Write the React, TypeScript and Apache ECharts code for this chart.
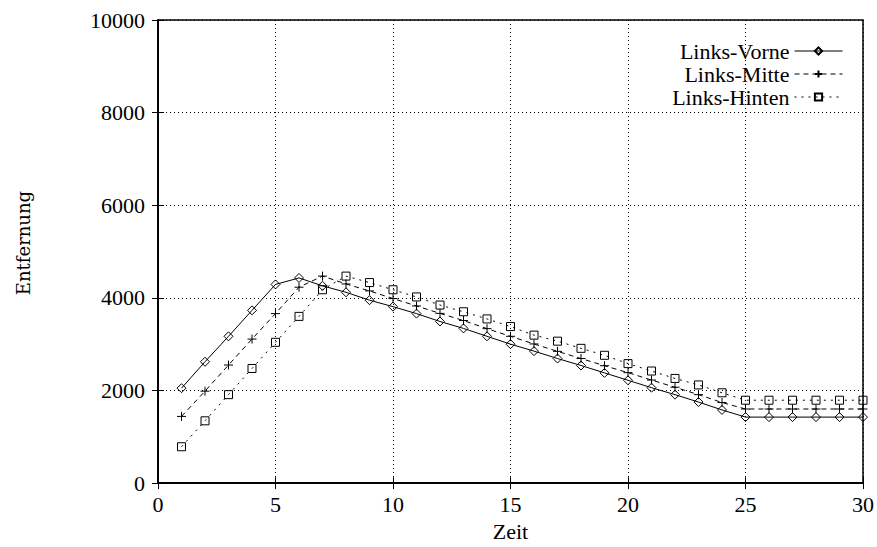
import React, { useEffect, useRef } from "react";
import * as echarts from "echarts";

const zeit = [1, 2, 3, 4, 5, 6, 7, 8, 9, 10, 11, 12, 13, 14, 15, 16, 17, 18, 19, 20, 21, 22, 23, 24, 25, 26, 27, 28, 29, 30];
const linksVorne = [2050, 2620, 3170, 3730, 4290, 4430, 4260, 4120, 3950, 3810, 3660, 3490, 3340, 3170, 3000, 2850, 2690, 2540, 2380, 2220, 2060, 1910, 1750, 1580, 1425, 1425, 1425, 1425, 1425, 1425];
const linksMitte = [1440, 1985, 2550, 3110, 3660, 4230, 4470, 4300, 4150, 3985, 3825, 3665, 3510, 3335, 3170, 3005, 2845, 2690, 2535, 2385, 2225, 2070, 1910, 1740, 1600, 1600, 1600, 1600, 1600, 1600];
const linksHinten = [785, 1345, 1910, 2475, 3040, 3600, 4175, 4470, 4330, 4175, 4020, 3845, 3700, 3545, 3380, 3195, 3065, 2910, 2760, 2580, 2420, 2260, 2120, 1950, 1790, 1790, 1790, 1790, 1790, 1790];
const seriesNames = ["Links-Vorne", "Links-Mitte", "Links-Hinten"];

const FONT = "'Liberation Serif', 'Times New Roman', serif";
const FS = 22;

export default function App() {
  const ref = useRef<HTMLDivElement>(null);
  useEffect(() => {
    document.body.style.margin = "0";
    const chart = echarts.init(ref.current!, null, { renderer: "svg" });
    const pairs = (ys: number[]) => zeit.map((x, i) => [x, ys[i]]);
    const gridLine = { show: true, lineStyle: { color: "#000", type: [1, 3] as any, width: 1 } };
    const mk = (name: string, data: number[], symbol: string, size: number, dash: any) => ({
      name,
      type: "line",
      data: pairs(data),
      symbol,
      symbolSize: size,
      showSymbol: true,
      color: "#000",
      itemStyle: { color: "rgba(0,0,0,0)", borderColor: "#000", borderWidth: 1 },
      lineStyle: { color: "#000", width: 1, type: dash },
      emphasis: { disabled: true },
      z: 3,
    });
    chart.setOption({
      animation: false,
      grid: { left: 158, right: 14, top: 20, bottom: 52.5, show: true, borderColor: "#000", borderWidth: 1.5, backgroundColor: "transparent" },
      legend: {
        show: true,
        orient: "vertical",
        align: "right",
        right: 34,
        top: 40,
        padding: 0,
        itemWidth: 48,
        itemHeight: 9,
        itemGap: 1,
        data: seriesNames,
        lineStyle: { width: 1 },
        textStyle: { fontFamily: FONT, fontSize: FS, lineHeight: 20, color: "#000" },
      },
      xAxis: [
        {
          type: "value",
          min: 0,
          max: 30,
          interval: 5,
          name: "Zeit",
          nameLocation: "middle",
          nameGap: 32,
          nameTextStyle: { fontFamily: FONT, fontSize: FS, color: "#000" },
          axisLine: { show: true, lineStyle: { color: "#000", width: 1.5 } },
          axisTick: { show: true, inside: true, length: 6, lineStyle: { color: "#000", width: 1 } },
          axisLabel: { fontFamily: FONT, fontSize: FS, color: "#000", margin: 10, formatter: (v: number) => String(v) },
          splitLine: gridLine,
        },
        {
          type: "value",
          position: "top",
          min: 0,
          max: 30,
          interval: 5,
          axisLine: { show: true, lineStyle: { color: "#000", width: 1.5 } },
          axisTick: { show: true, inside: true, length: 6, lineStyle: { color: "#000", width: 1 } },
          axisLabel: { show: false },
          splitLine: { show: false },
        },
      ],
      yAxis: [
        {
          type: "value",
          min: 0,
          max: 10000,
          interval: 2000,
          name: "Entfernung",
          nameLocation: "middle",
          nameGap: 126,
          nameTextStyle: { fontFamily: "'DejaVu Serif', serif", fontSize: 18, color: "#000", padding: [0, 0, 0, 17] },
          axisLine: { show: true, lineStyle: { color: "#000", width: 1.5 } },
          axisTick: { show: true, inside: true, length: 6, lineStyle: { color: "#000", width: 1 } },
          axisLabel: { fontFamily: FONT, fontSize: FS, color: "#000", margin: 13, formatter: (v: number) => String(v) },
          splitLine: gridLine,
        },
        {
          type: "value",
          position: "right",
          min: 0,
          max: 10000,
          interval: 2000,
          axisLine: { show: true, lineStyle: { color: "#000", width: 1.5 } },
          axisTick: { show: true, inside: true, length: 6, lineStyle: { color: "#000", width: 1 } },
          axisLabel: { show: false },
          splitLine: { show: false },
        },
      ],
      series: [
        mk(seriesNames[0], linksVorne, "diamond", 9, "solid"),
        mk(seriesNames[1], linksMitte, "path://M0 5 L10 5 M5 0 L5 10", 9, [5, 4]),
        mk(seriesNames[2], linksHinten, "rect", 8, [2, 5]),
      ],
    });
    return () => chart.dispose();
  }, []);
  return <div ref={ref} style={{ width: 877, height: 547, position: "absolute", left: 0, top: 0, background: "#fff" }} />;
}
